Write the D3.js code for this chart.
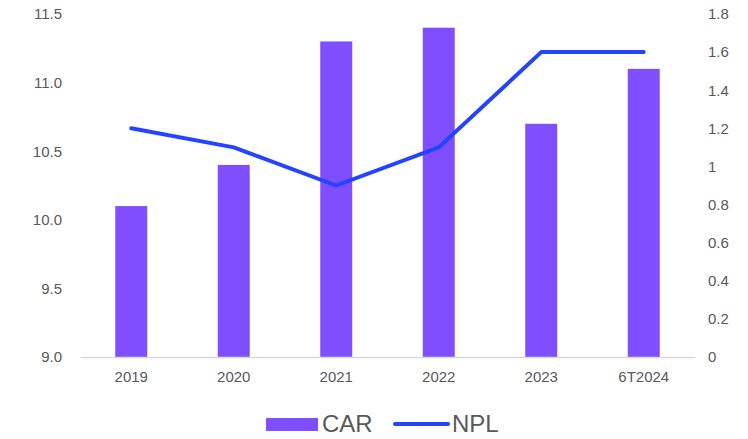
<!DOCTYPE html>
<html>
<head>
<meta charset="utf-8">
<script src="https://cdn.jsdelivr.net/npm/d3@7"></script>
<style>
  body { margin: 0; background: #fff; }
  text { font-family: "Liberation Sans", Arial, sans-serif; }
</style>
</head>
<body>
<svg id="chart"></svg>
<script>
// data
const categories = ['2019', '2020', '2021', '2022', '2023', '6T2024'];
const carValues = [10.1, 10.4, 11.3, 11.4, 10.7, 11.1];
const nplValues = [1.2, 1.1, 0.9, 1.1, 1.6, 1.6];
const leftTicks = [9.0, 9.5, 10.0, 10.5, 11.0, 11.5];
const rightTicks = [0, 0.2, 0.4, 0.6, 0.8, 1, 1.2, 1.4, 1.6, 1.8];

const width = 748, height = 439;
const margin = {top: 14, right: 53, bottom: 82, left: 80};

const svg = d3.select('#chart')
    .attr('width', width)
    .attr('height', height);

const x = d3.scaleBand()
    .domain(categories)
    .range([margin.left, width - margin.right]);

const yLeft = d3.scaleLinear()
    .domain([9.0, 11.5])
    .range([height - margin.bottom, margin.top]);

const yRight = d3.scaleLinear()
    .domain([0, 1.8])
    .range([height - margin.bottom, margin.top]);

const barColor = '#7f4fff';
const lineColor = '#2443ff';
const labelColor = '#595959';

// left axis
const leftAxis = svg.append('g')
    .attr('transform', `translate(${margin.left - 18},0)`)
    .call(d3.axisLeft(yLeft).tickValues(leftTicks).tickFormat(d3.format('.1f')).tickSize(0).tickPadding(0));
leftAxis.select('.domain').remove();
leftAxis.selectAll('text').attr('fill', labelColor).style('font-size', '15px');

// right axis
const rightAxis = svg.append('g')
    .attr('transform', `translate(${width - margin.right + 13},0)`)
    .call(d3.axisRight(yRight).tickValues(rightTicks).tickFormat(d => d3.format('~g')(d)).tickSize(0).tickPadding(0));
rightAxis.select('.domain').remove();
rightAxis.selectAll('text').attr('fill', labelColor).style('font-size', '15px');

// bars
svg.append('g')
    .selectAll('rect')
    .data(carValues)
    .join('rect')
    .attr('x', (d, i) => x(categories[i]) + x.bandwidth() / 2 - 16)
    .attr('width', 32)
    .attr('y', d => yLeft(d))
    .attr('height', d => yLeft(9.0) - yLeft(d))
    .attr('fill', barColor);

// bottom axis
const bottomAxis = svg.append('g')
    .attr('transform', `translate(0,${height - margin.bottom})`)
    .call(d3.axisBottom(x).tickSize(0).tickPadding(14));
bottomAxis.select('.domain').attr('stroke', '#d9d9d9').attr('stroke-width', 1.5);
bottomAxis.selectAll('text').attr('fill', labelColor).style('font-size', '15px');

// line
const line = d3.line()
    .x((d, i) => x(categories[i]) + x.bandwidth() / 2)
    .y(d => yRight(d));

svg.append('path')
    .datum(nplValues)
    .attr('d', line)
    .attr('fill', 'none')
    .attr('stroke', lineColor)
    .attr('stroke-width', 4)
    .attr('stroke-linejoin', 'round')
    .attr('stroke-linecap', 'round');

// legend
const legend = svg.append('g').attr('transform', 'translate(0,424)');
legend.append('rect')
    .attr('x', 266).attr('y', -6).attr('width', 52).attr('height', 13)
    .attr('fill', barColor);
legend.append('text')
    .attr('x', 322).attr('y', 8)
    .attr('fill', labelColor)
    .style('font-size', '24px')
    .text('CAR');
legend.append('line')
    .attr('x1', 395).attr('x2', 448).attr('y1', 0).attr('y2', 0)
    .attr('stroke', lineColor).attr('stroke-width', 4).attr('stroke-linecap', 'round');
legend.append('text')
    .attr('x', 452).attr('y', 8)
    .attr('fill', labelColor)
    .style('font-size', '24px')
    .text('NPL');
</script>
</body>
</html>
